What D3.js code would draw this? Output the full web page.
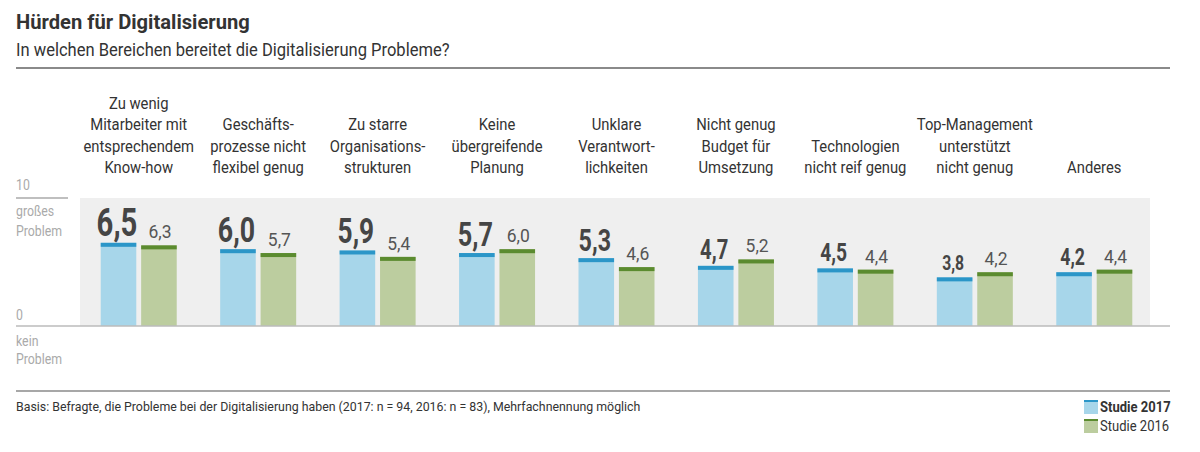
<!DOCTYPE html>
<html>
<head>
<meta charset="utf-8">
<title>Hürden für Digitalisierung</title>
<script src="https://d3js.org/d3.v7.min.js"></script>
<style>
    body { margin: 0; background: #fff; }
    text { font-family: "Liberation Sans Narrow", "Roboto", sans-serif; }
</style>
</head>
<body>
<div id="chart"></div>
<script>
    const categories = [
        ["Zu wenig", "Mitarbeiter mit", "entsprechendem", "Know-how"],
        ["Geschäfts-", "prozesse nicht", "flexibel genug"],
        ["Zu starre", "Organisations-", "strukturen"],
        ["Keine", "übergreifende", "Planung"],
        ["Unklare", "Verantwort-", "lichkeiten"],
        ["Nicht genug", "Budget für", "Umsetzung"],
        ["Technologien", "nicht reif genug"],
        ["Top-Management", "unterstützt", "nicht genug"],
        ["Anderes"]
    ];
    const values2017 = [6.5, 6.0, 5.9, 5.7, 5.3, 4.7, 4.5, 3.8, 4.2];
    const values2016 = [6.3, 5.7, 5.4, 6.0, 4.6, 5.2, 4.4, 4.2, 4.4];
    const seriesNames = ["Studie 2017", "Studie 2016"];

    const width = 1200, height = 452;
    const fmt = v => v.toFixed(1).replace(".", ",");

    // schmalere Schrift nachbilden
    function squeeze(sel, f) {
        sel.each(function() {
            const w = this.getComputedTextLength();
            d3.select(this).attr("textLength", w * f).attr("lengthAdjust", "spacingAndGlyphs");
        });
    }

    const svg = d3.select("#chart").append("svg")
        .attr("width", width)
        .attr("height", height);

    // Titel
    svg.append("text").attr("x", 16).attr("y", 29)
        .text("Hürden für Digitalisierung")
        .style("font-size", "21px").style("font-weight", "bold").attr("fill", "#333")
        .call(squeeze, 0.96);
    svg.append("text").attr("x", 16).attr("y", 56)
        .text("In welchen Bereichen bereitet die Digitalisierung Probleme?")
        .style("font-size", "19px").attr("fill", "#333")
        .call(squeeze, 0.87);
    svg.append("line").attr("x1", 16).attr("x2", 1170).attr("y1", 68).attr("y2", 68)
        .attr("stroke", "#8a8a8a").attr("stroke-width", 2);

    const idx = d3.range(categories.length);
    const x = d3.scaleBand().domain(idx).range([79, 1154]);
    const sub = d3.scaleBand().domain([0, 1]).range([x.bandwidth() / 2 - 38, x.bandwidth() / 2 + 38]).paddingInner(0.12);
    const y = d3.scaleLinear().domain([0, 10]).range([326, 198]);
    const bigSize = d3.scaleLinear().domain([3.8, 6.5]).range([21, 39]);

    // Hintergrund
    svg.append("rect").attr("x", 80).attr("y", y(10))
        .attr("width", 1070).attr("height", y(0) - y(10)).attr("fill", "#efefef");

    // Y-Achse
    svg.append("line").attr("x1", 16).attr("x2", 68).attr("y1", y(10)).attr("y2", y(10))
        .attr("stroke", "#aaa").attr("stroke-width", 1.5);
    const axisText = [["10", 190], ["großes", 216], ["Problem", 236], ["0", 320], ["kein", 346], ["Problem", 364]];
    svg.selectAll(".axis-label").data(axisText).join("text")
        .attr("class", "axis-label")
        .attr("x", 16).attr("y", d => d[1])
        .text(d => d[0])
        .style("font-size", "15px").attr("fill", "#aaa")
        .call(squeeze, 0.82);

    const groups = svg.selectAll(".group").data(idx).join("g")
        .attr("class", "group")
        .attr("transform", i => `translate(${x(i)},0)`);

    // Kategorien
    groups.each(function(i) {
        const lines = categories[i];
        d3.select(this).selectAll("text.cat").data(lines).join("text")
            .attr("class", "cat")
            .attr("x", x.bandwidth() / 2)
            .attr("y", (d, j) => 173 - (lines.length - 1 - j) * 21.5)
            .attr("text-anchor", "middle")
            .text(d => d)
            .style("font-size", "17px").attr("fill", "#333")
            .call(squeeze, 0.87);
    });

    const series = [
        { vals: values2017, fill: "#a7d6ea", cap: "#2b96c8" },
        { vals: values2016, fill: "#bccd9f", cap: "#5b8b2f" }
    ];

    series.forEach((s, k) => {
        groups.append("rect")
            .attr("x", sub(k)).attr("width", sub.bandwidth())
            .attr("y", i => y(s.vals[i])).attr("height", i => y(0) - y(s.vals[i]))
            .attr("fill", s.fill);
        groups.append("rect")
            .attr("x", sub(k)).attr("width", sub.bandwidth())
            .attr("y", i => y(s.vals[i])).attr("height", 4)
            .attr("fill", s.cap);
        groups.append("text")
            .attr("x", sub(k) + sub.bandwidth() / 2 + (k === 0 ? -1.5 : 1))
            .attr("y", i => y(s.vals[i]) - 7)
            .attr("text-anchor", "middle")
            .text(i => fmt(s.vals[i]))
            .style("font-size", i => k === 0 ? bigSize(s.vals[i]) + "px" : "19px")
            .style("font-weight", k === 0 ? "bold" : "normal")
            .attr("fill", k === 0 ? "#454545" : "#555")
            .call(squeeze, k === 0 ? 0.75 : 0.92);
    });

    // Grundlinie
    svg.append("line").attr("x1", 16).attr("x2", 1170).attr("y1", y(0)).attr("y2", y(0))
        .attr("stroke", "#bbb").attr("stroke-width", 1.5);

    // Fußzeile
    svg.append("line").attr("x1", 16).attr("x2", 1170).attr("y1", 391).attr("y2", 391)
        .attr("stroke", "#8a8a8a").attr("stroke-width", 1.5);
    svg.append("text").attr("x", 16).attr("y", 411)
        .text("Basis: Befragte, die Probleme bei der Digitalisierung haben (2017: n = 94, 2016: n = 83), Mehrfachnennung möglich")
        .style("font-size", "13px").attr("fill", "#333")
        .call(squeeze, 0.95);

    // Legende
    const legend = svg.selectAll(".legend").data(series).join("g")
        .attr("class", "legend")
        .attr("transform", (d, k) => `translate(1084,${400 + k * 19})`);
    legend.append("rect").attr("width", 14).attr("height", 14).attr("fill", d => d.fill);
    legend.append("rect").attr("width", 14).attr("height", 2).attr("fill", d => d.cap);
    legend.append("text").attr("x", 16).attr("y", 12)
        .text((d, k) => seriesNames[k])
        .style("font-size", "14px")
        .style("font-weight", (d, k) => k === 0 ? "bold" : "normal")
        .attr("fill", "#333")
        .call(squeeze, 0.93);
</script>
</body>
</html>
